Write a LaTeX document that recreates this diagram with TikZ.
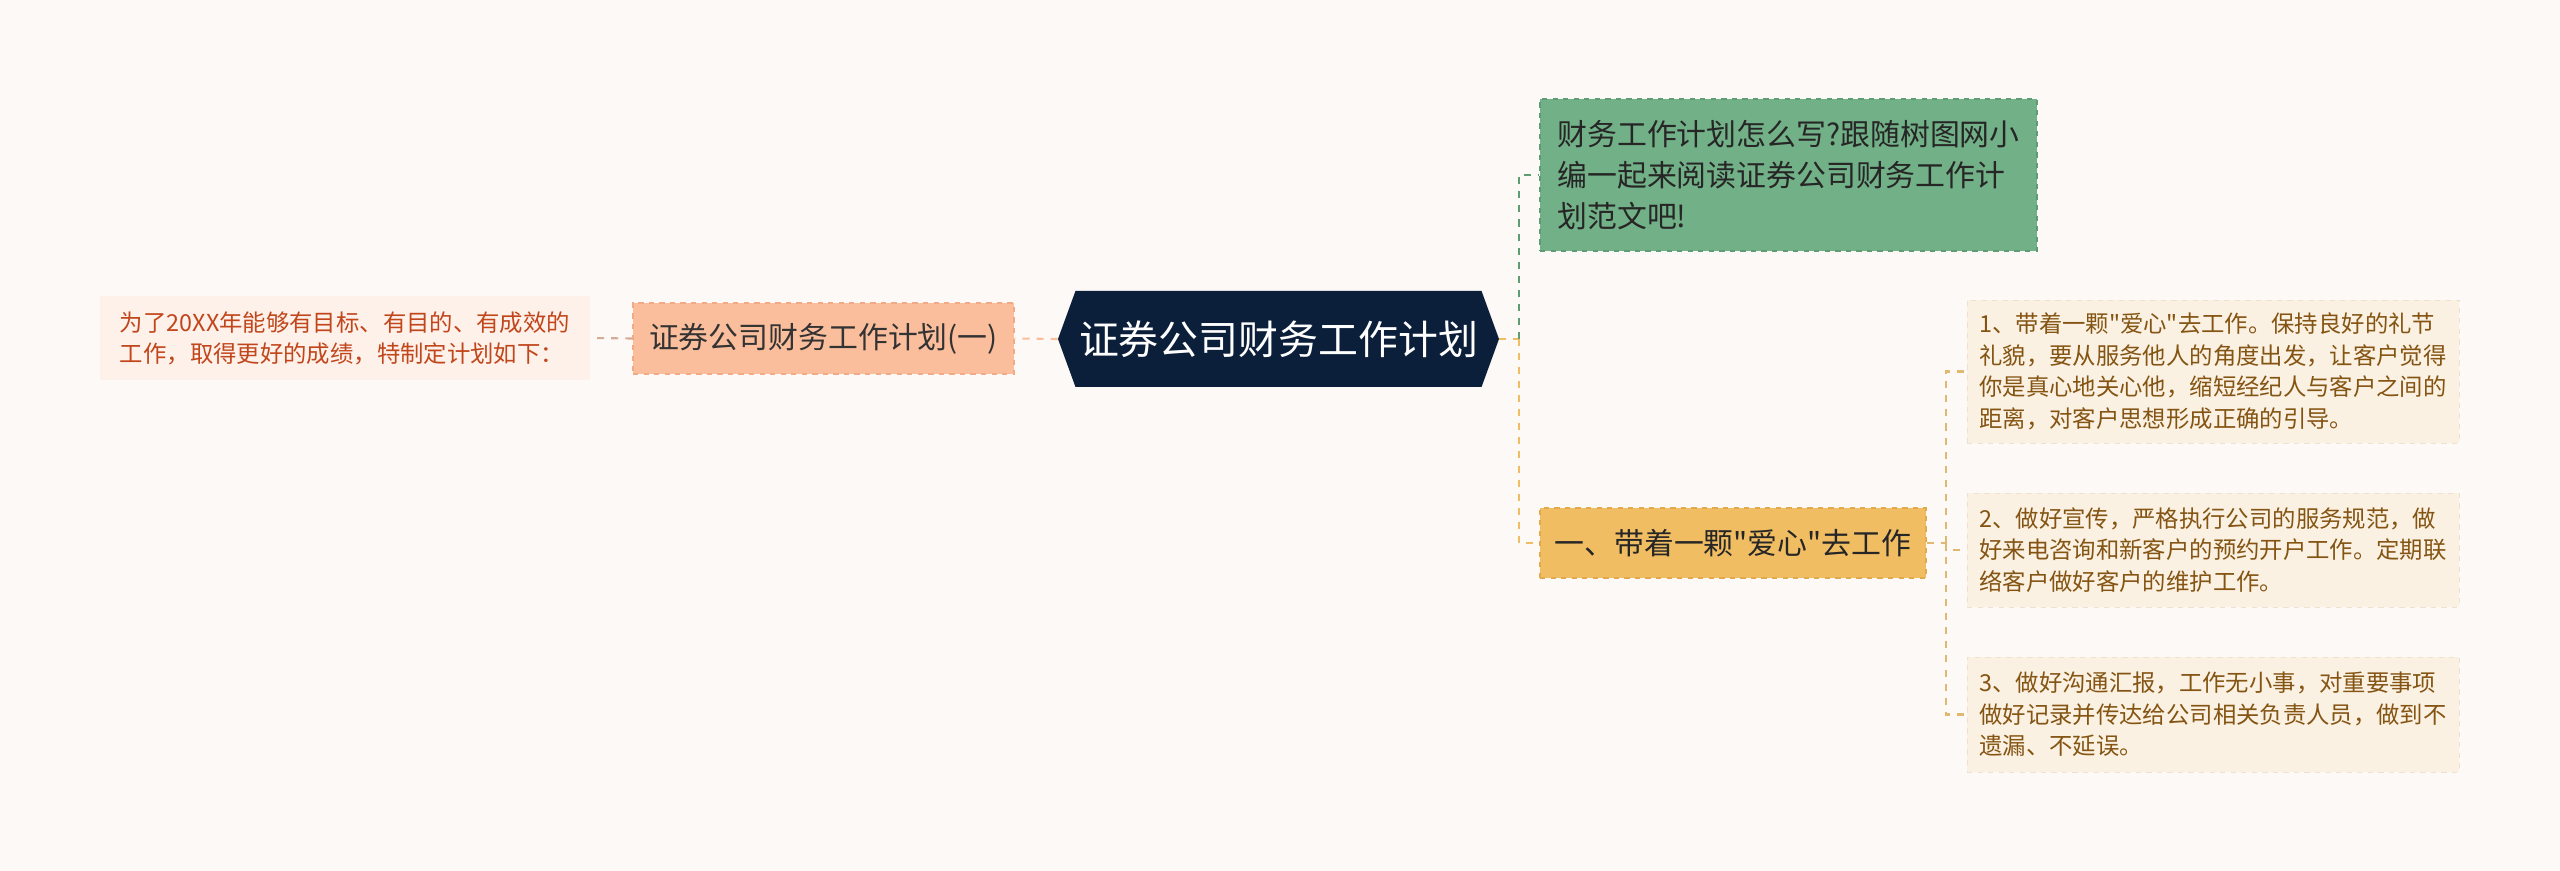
\documentclass[tikz,border=0pt]{standalone}
\usepackage{fontspec}
\setmainfont{Noto Sans CJK SC}
\newfontfamily\cjk{Noto Sans CJK SC}
\usepackage{xcolor}
\usepackage{tikz}
\usetikzlibrary{shapes.symbols}

\definecolor{bgc}{HTML}{FCF9F7}
\definecolor{navy}{HTML}{0C1F3A}
\definecolor{salm}{HTML}{FBBE9D}
\definecolor{salmd}{HTML}{F2A985}
\definecolor{pale}{HTML}{FDF1E9}
\definecolor{redt}{HTML}{C2461C}
\definecolor{grn}{HTML}{72B087}
\definecolor{grnd}{HTML}{5E9C74}
\definecolor{orn}{HTML}{F0BD63}
\definecolor{ornd}{HTML}{E2AA4C}
\definecolor{cream}{HTML}{FBF1E2}
\definecolor{brwn}{HTML}{845413}
\definecolor{tanl}{HTML}{E0B870}

\begin{document}
\begin{tikzpicture}[
  hub/.style={signal,signal to=east and west,signal pointer angle=140,fill=navy,text=white,
    font=\cjk\fontsize{22.7}{26}\selectfont,minimum width=8.82cm,minimum height=1.92cm,inner sep=0pt},
  sub/.style={draw,dashed,line width=0.8pt,align=left,inner sep=0pt,font=\cjk\fontsize{17}{23.2}\selectfont},
  leaf/.style={fill=cream,draw=cream!90!brwn,dashed,align=left,text=brwn,inner sep=0pt,
    minimum width=9.84cm,minimum height=2.86cm,font=\cjk\fontsize{13.3}{17.9}\selectfont},
  lk/.style={dashed,dash pattern=on 4pt off 4pt,line width=1.2pt}]
\fill[bgc] (0,0) rectangle (51.2,-17.42);
% centre and left side
\node[hub] (c) at (25.57,-6.78) {证券公司财务工作计划};
\node[sub,fill=salm,draw=salmd,text=black!80,minimum width=7.62cm,minimum height=1.42cm] (l) at (16.47,-6.77) {证券公司财务工作计划(一)};
\node[fill=pale,align=left,text=redt,inner sep=0pt,minimum width=9.8cm,minimum height=1.68cm,
  font=\cjk\fontsize{13.3}{17.6}\selectfont] (ll) at (6.9,-6.76)
  {为了20XX年能够有目标、有目的、有成效的\\工作，取得更好的成绩，特制定计划如下：};
% right side
\node[sub,fill=grn,draw=grnd,text=black!85,minimum width=9.94cm,minimum height=3.04cm] (g) at (35.77,-3.5)
  {财务工作计划怎么写?跟随树图网小\\编一起来阅读证券公司财务工作计\\划范文吧!};
\node[sub,fill=orn,draw=ornd,text=black!85,minimum width=7.72cm,minimum height=1.4cm] (o) at (34.66,-10.86)
  {一、带着一颗"爱心"去工作};
\node[leaf] (b1) at (44.26,-7.43)
  {1、带着一颗"爱心"去工作。保持良好的礼节\\礼貌，要从服务他人的角度出发，让客户觉得\\你是真心地关心他，缩短经纪人与客户之间的\\距离，对客户思想形成正确的引导。};
\node[leaf,minimum height=2.28cm] (b2) at (44.26,-11.0)
  {2、做好宣传，严格执行公司的服务规范，做\\好来电咨询和新客户的预约开户工作。定期联\\络客户做好客户的维护工作。};
\node[leaf,minimum height=2.3cm] (b3) at (44.26,-14.29)
  {3、做好沟通汇报，工作无小事，对重要事项\\做好记录并传达给公司相关负责人员，做到不\\遗漏、不延误。};
\coordinate (t1) at (30.38,-6.78);
\coordinate (t2) at (38.92,-10.86);
\draw[lk,salm] (c.west) -- (l.east);
\draw[lk,salm!70!gray] (l.west) -- (ll.east);
\draw[lk,orn] (c.east) -- (t1);
\draw[lk,grnd] (t1) |- (g.west);
\draw[lk,orn] (t1) |- (o.west);
\draw[lk,tanl] (o.east) -- (t2);
\foreach \b in {b1,b2,b3} \draw[lk,tanl] (t2) |- (\b.west);
\end{tikzpicture}
\end{document}
